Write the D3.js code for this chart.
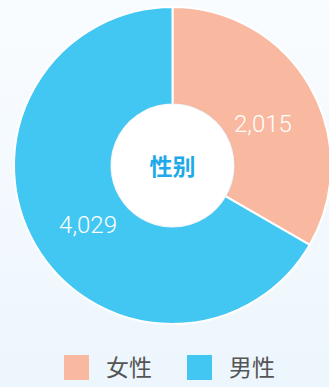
<!DOCTYPE html>
<html>
<head>
<meta charset="utf-8">
<script src="https://cdn.jsdelivr.net/npm/d3@7/dist/d3.min.js"></script>
<style>
  html, body { margin: 0; padding: 0; }
  body { width: 329px; height: 387px; overflow: hidden; }
  svg { display: block; }
</style>
</head>
<body>
<svg id="chart" width="329" height="387"></svg>
<script>
// Gender distribution
const categories = ["女性", "男性"];
const values = [2015, 4029];
const colors = ["#F9B8A0", "#42C7F3"];
const title = "性别";

const W = 329, H = 387;
const cx = 172.5, cy = 165.5;
const outerR = 158.5, innerR = 61;

const svg = d3.select("#chart");

// soft vertical background gradient
const defs = svg.append("defs");
const bg = defs.append("linearGradient").attr("id", "bg")
  .attr("x1", 0).attr("y1", 0).attr("x2", 0).attr("y2", 1);
bg.append("stop").attr("offset", "0%").attr("stop-color", "#f9fcff");
bg.append("stop").attr("offset", "100%").attr("stop-color", "#edf6fd");

const shadow = defs.append("filter").attr("id", "hole-shadow")
  .attr("x", "-20%").attr("y", "-20%").attr("width", "140%").attr("height", "140%");
shadow.append("feDropShadow").attr("dx", 0).attr("dy", 0)
  .attr("stdDeviation", 1.5).attr("flood-color", "#7fa9c4").attr("flood-opacity", 0.35);

svg.append("rect").attr("width", W).attr("height", H).attr("fill", "url(#bg)");

const data = categories.map((c, i) => ({ name: c, value: values[i], color: colors[i] }));

const pie = d3.pie().value(d => d.value).sort(null);
const arcs = pie(data);

const arc = d3.arc().innerRadius(innerR).outerRadius(outerR);
const labelArc = d3.arc().innerRadius(101).outerRadius(101);

const g = svg.append("g").attr("transform", `translate(${cx},${cy})`);

g.selectAll("path.slice")
  .data(arcs)
  .join("path")
  .attr("class", "slice")
  .attr("d", arc)
  .attr("fill", d => d.data.color)
  .attr("stroke", "#ffffff")
  .attr("stroke-width", 2)
  .attr("stroke-linejoin", "round");

// white centre disc with the title
g.append("circle")
  .attr("r", innerR)
  .attr("fill", "#ffffff")
  .attr("filter", "url(#hole-shadow)");

g.append("text")
  .attr("text-anchor", "middle")
  .attr("y", 1)
  .attr("dy", "0.36em")
  .attr("font-family", "'Noto Sans CJK SC', 'Noto Sans', sans-serif")
  .attr("font-weight", 700)
  .attr("font-size", 23)
  .attr("fill", "#1EA9EA")
  .text(title);

// value labels, nudged slightly right and down from the slice centroid
const fmt = d3.format(",");
g.selectAll("text.value")
  .data(arcs)
  .join("text")
  .attr("class", "value")
  .attr("transform", d => {
    const [x, y] = labelArc.centroid(d);
    return `translate(${x + 3},${y + 8})`;
  })
  .attr("text-anchor", "middle")
  .attr("dy", "0.36em")
  .attr("font-family", "Roboto, 'Noto Sans', sans-serif")
  .attr("font-weight", 300)
  .attr("font-size", 24)
  .attr("fill", "#ffffff")
  .text(d => fmt(d.data.value));

// legend
const legend = svg.append("g").attr("transform", "translate(64,355)");
const item = legend.selectAll("g")
  .data(data)
  .join("g")
  .attr("transform", (d, i) => `translate(${i * 123},0)`);

item.append("rect")
  .attr("width", 25).attr("height", 25)
  .attr("fill", d => d.color);

item.append("text")
  .attr("x", 42).attr("y", 13)
  .attr("dy", "0.36em")
  .attr("font-family", "'Noto Sans CJK SC', 'Noto Sans', sans-serif")
  .attr("font-size", 23)
  .attr("fill", "#555555")
  .text(d => d.name);
</script>
</body>
</html>
